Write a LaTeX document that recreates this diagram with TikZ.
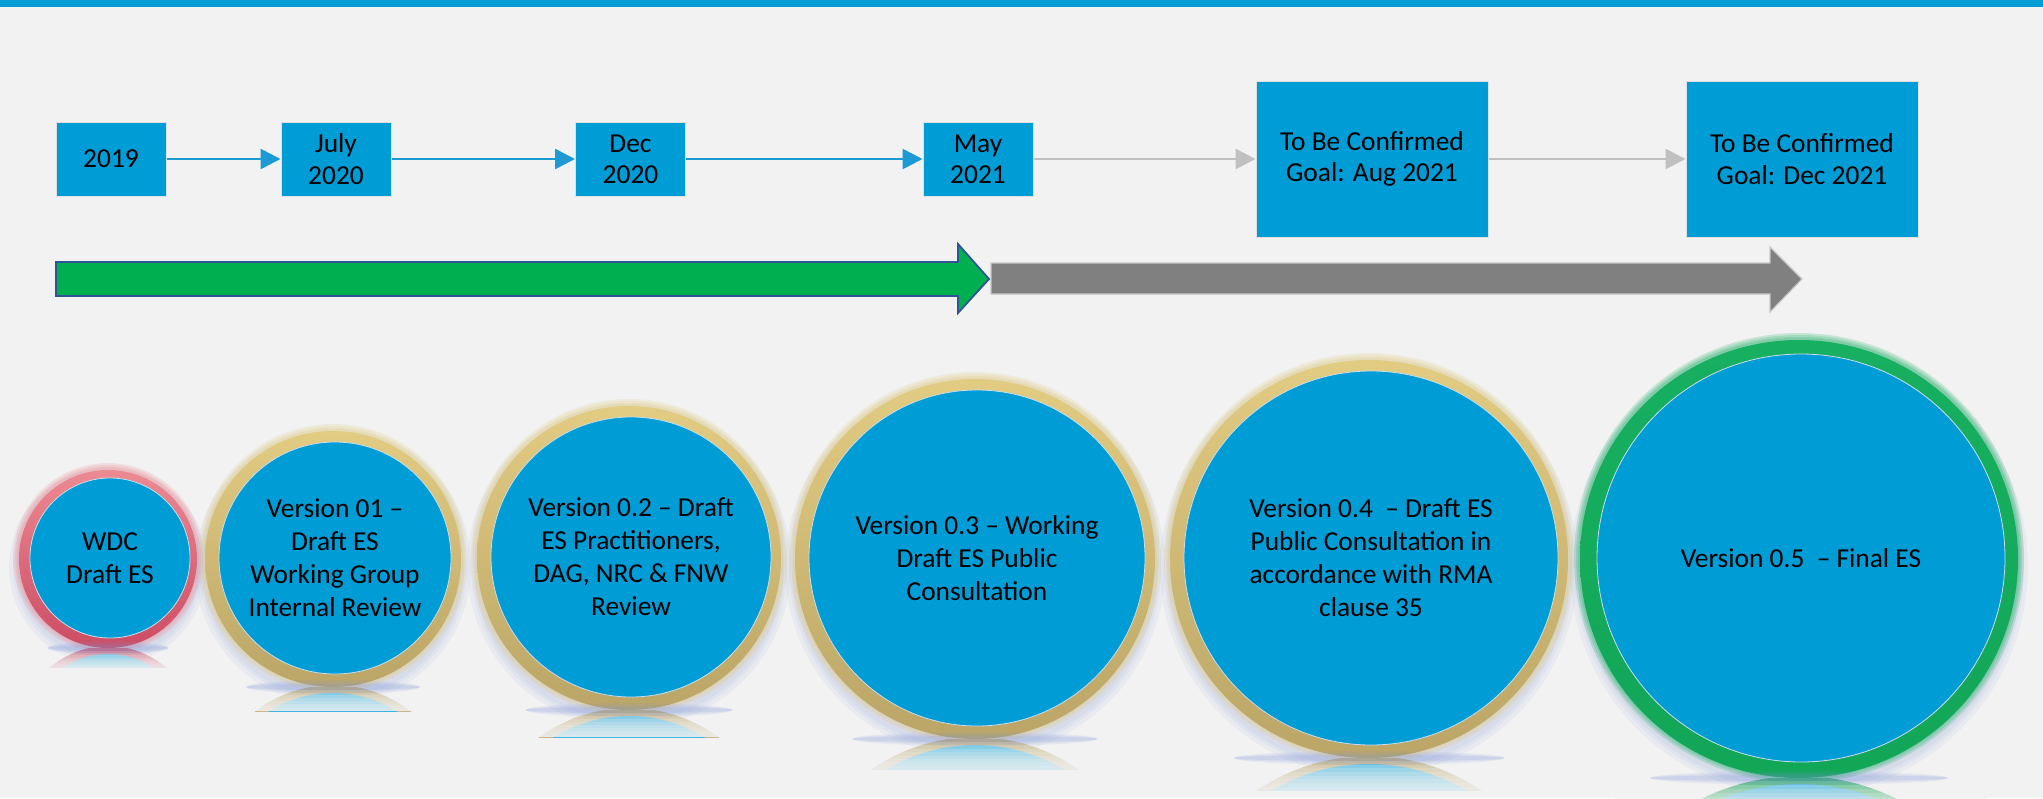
\documentclass[tikz,border=0pt]{standalone}
\usepackage{fontspec}
\setmainfont{Carlito}
\usetikzlibrary{arrows.meta}
\definecolor{bg}{HTML}{F2F2F2}
\definecolor{topblue}{HTML}{009CD6}
\definecolor{boxblue}{HTML}{009CD6}
\definecolor{circblue}{HTML}{009CD6}
\definecolor{ringedge}{HTML}{C9DDEB}
\definecolor{linkblue}{HTML}{1B9AD6}
\definecolor{linkgrey}{HTML}{C0C0C0}
\definecolor{arrgreen}{HTML}{00B050}
\definecolor{arrgreenline}{HTML}{2F5597}
\definecolor{arrgrey}{HTML}{808080}
\definecolor{goldlight}{HTML}{E2CC82}
\definecolor{golddark}{HTML}{BBA567}
\definecolor{pinklight}{HTML}{EC8A92}
\definecolor{pinkdark}{HTML}{CC4C64}
\definecolor{greenlight}{HTML}{17B060}
\definecolor{greendark}{HTML}{12A657}
\definecolor{glowblue}{HTML}{7F95D8}
\newcommand\boxfont{\fontsize{13.7}{15.6}\selectfont}
\newcommand\circfont{\fontsize{13.7}{16.5}\selectfont}
% #1 x, #2 y, #3 inner radius, #4 ring thickness, #5 light colour, #6 dark colour
\newcommand\stagering[6]{%
  \foreach \k in {10,6,3}{%
    \fill[glowblue,opacity=0.08] (#1-2,#2+9) circle[radius=#3+#4+\k];}
  \foreach \k in {6,4,2}{%
    \fill[#5,opacity=0.2] (#1-2,#2) circle[radius=#3+#4+\k];}
  \shade[top color=#5, bottom color=#6] (#1-2,#2+1) circle[radius=#3+#4];
  \pgfmathsetmacro\stgR{#3+#4}
  \pgfmathsetmacro\stgyb{#2+1+\stgR}
  \pgfmathsetmacro\stgdep{0.12*\stgR+9}
  \pgfmathsetmacro\stgxl{#1-0.85*\stgR}
  \pgfmathsetmacro\stgxr{#1+0.85*\stgR}
  \pgfmathsetmacro\stgym{\stgyb+\stgR-2}
  \begin{scope}
    \clip (\stgxl,\stgyb) rectangle (\stgxr,\stgyb+\stgdep);
    \fill[#6,opacity=0.75] (#1-2,\stgym) circle[radius=\stgR];
    \fill[circblue!75!white] (#1-2,\stgym) circle[radius=\stgR-8];
    \foreach \j in {0,...,7}{%
      \fill[bg,opacity=0.22] (\stgxl,\stgyb+3+\j*\stgdep/9) rectangle (\stgxr,\stgyb+\stgdep);}
  \end{scope}
  \foreach \h/\o in {7/0.10,5/0.12,3/0.15}{%
    \fill[glowblue,opacity=\o] (#1-2,\stgyb) ellipse[x radius={0.68*\stgR}, y radius=\h];}
}
\begin{document}
\begin{tikzpicture}[x=0.5pt,y=-0.5pt,
  box/.style={rectangle, fill=boxblue, draw=black!12, line width=0.5pt,
    align=center, inner sep=0pt, font=\boxfont},
  smallbox/.style={box, minimum width=55pt, minimum height=37pt},
  bigbox/.style={box, minimum width=116pt, minimum height=78pt},
  stage/.style={circle, fill=circblue, draw=ringedge, line width=0.4pt,
    align=center, inner sep=-25pt, font=\circfont},
  link/.style={line width=1.35pt, -{Triangle[length=10pt,width=10pt]}},
  linkb/.style={link, draw=linkblue, fill=linkblue},
  linkg/.style={link, draw=linkgrey, fill=linkgrey}
]
\fill[bg] (0,0) rectangle (2043,798);
\useasboundingbox (0,0) rectangle (2043,798);
\fill[topblue] (0,0) rectangle (2043,7);

% date boxes
\node[smallbox] (b1) at (111,159) {2019};
\node[smallbox] (b2) at (336,159) {July\\2020};
\node[smallbox] (b3) at (630.5,159) {Dec\\2020};
\node[smallbox] (b4) at (978,159) {May\\2021};
\node[bigbox] (b5) at (1372,159) {To Be Confirmed\\Goal: Aug 2021};
\node[bigbox] (b6) at (1802,159) {To Be Confirmed\\Goal: Dec 2021};

\draw[linkb] (b1) -- (b2);
\draw[linkb] (b2) -- (b3);
\draw[linkb] (b3) -- (b4);
\draw[linkg] (b4) -- (b5);
\draw[linkg] (b5) -- (b6);

% progress arrows
\filldraw[fill=arrgreen, draw=arrgreenline, line width=0.9pt]
  (56,262) -- (958,262) -- (958,244) -- (989,279) -- (958,313) -- (958,296) -- (56,296) -- cycle;
\filldraw[fill=arrgrey, draw=black!22, line width=0.6pt]
  (991,263) -- (1770,263) -- (1770,247) -- (1802,279) -- (1770,312) -- (1770,294) -- (991,294) -- cycle;

% stage circles
\stagering{110}{558}{80}{9}{pinklight}{pinkdark}
\node[stage, minimum size=80pt] (s1) at (110,558) {WDC\\Draft ES};
\stagering{335}{558}{116}{12}{goldlight}{golddark}
\node[stage, minimum size=116pt] (s2) at (335,558) {Version 01 –\\Draft ES\\Working Group\\Internal Review};
\stagering{631}{557}{140}{12}{goldlight}{golddark}
\node[stage, minimum size=140pt] (s3) at (631,557) {Version 0.2 – Draft\\ES Practitioners,\\DAG, NRC \& FNW\\Review};
\stagering{977}{558}{168}{12}{goldlight}{golddark}
\node[stage, minimum size=168pt] (s4) at (977,558) {Version 0.3 – Working\\Draft ES Public\\Consultation};
\stagering{1371}{558}{187}{12}{goldlight}{golddark}
\node[stage, minimum size=187pt] (s5) at (1371,558) {Version 0.4\ \ – Draft ES\\Public Consultation in\\accordance with RMA\\clause 35};
\stagering{1801}{558}{204}{15}{greenlight}{greendark}
\node[stage, minimum size=204pt] (s6) at (1801,558) {Version 0.5\ \ – Final ES};
\end{tikzpicture}
\end{document}
